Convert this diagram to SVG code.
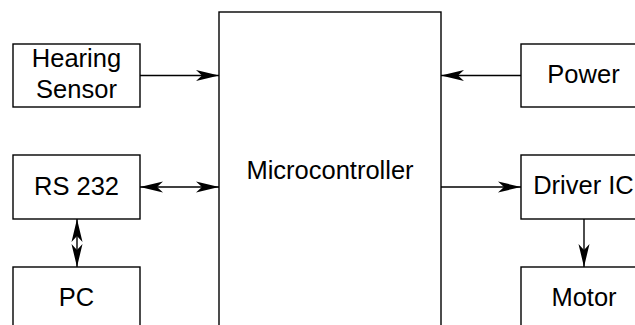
<svg xmlns="http://www.w3.org/2000/svg" width="635" height="325" viewBox="0 0 635 325">
  <style>
    .box { fill: #ffffff; stroke: #000000; stroke-width: 1.4; }
    .lbl { font-family: "Liberation Sans", Arial, sans-serif; font-size: 25.5px; fill: #000000; text-anchor: middle; }
    .conn { stroke: #000000; stroke-width: 1.4; fill: none; }
  </style>
  <defs>
    <marker id="arr" markerUnits="userSpaceOnUse" markerWidth="30" markerHeight="14" viewBox="-24 -7 25 14" refX="0" refY="0" orient="auto-start-reverse">
      <path d="M0,0 L-23,-5.5 L-17,0 L-23,5.5 Z" fill="#000000"/>
    </marker>
  </defs>
  <rect width="635" height="325" fill="#ffffff"/>
  <g id="microcontroller">
    <rect class="box" x="219" y="12" width="222" height="340"/>
    <text class="lbl" x="330" y="179">Microcontroller</text>
  </g>
  <g id="hearing-sensor">
    <rect class="box" x="13" y="44" width="127" height="63"/>
    <text class="lbl" x="76.5" y="67">Hearing</text>
    <text class="lbl" x="76.5" y="98">Sensor</text>
  </g>
  <g id="rs232">
    <rect class="box" x="13" y="155" width="127" height="64"/>
    <text class="lbl" x="76.5" y="195">RS 232</text>
  </g>
  <g id="pc">
    <rect class="box" x="13" y="267" width="127" height="80"/>
    <text class="lbl" x="76.5" y="306">PC</text>
  </g>
  <g id="power">
    <rect class="box" x="521" y="44" width="130" height="63"/>
    <text class="lbl" x="583.5" y="83">Power</text>
  </g>
  <g id="driver-ic">
    <rect class="box" x="521" y="155" width="130" height="64"/>
    <text class="lbl" x="583.5" y="194">Driver IC</text>
  </g>
  <g id="motor">
    <rect class="box" x="521" y="267" width="130" height="80"/>
    <text class="lbl" x="584" y="306">Motor</text>
  </g>
  <g id="connectors">
    <line class="conn" x1="140" y1="75.5" x2="219" y2="75.5" marker-end="url(#arr)"/>
    <line class="conn" x1="140" y1="187" x2="219" y2="187" marker-start="url(#arr)" marker-end="url(#arr)"/>
    <line class="conn" x1="77" y1="219" x2="77" y2="267" marker-start="url(#arr)" marker-end="url(#arr)"/>
    <line class="conn" x1="521" y1="75.5" x2="441" y2="75.5" marker-end="url(#arr)"/>
    <line class="conn" x1="441" y1="187" x2="521" y2="187" marker-end="url(#arr)"/>
    <line class="conn" x1="584" y1="219" x2="584" y2="267" marker-end="url(#arr)"/>
  </g>
</svg>
